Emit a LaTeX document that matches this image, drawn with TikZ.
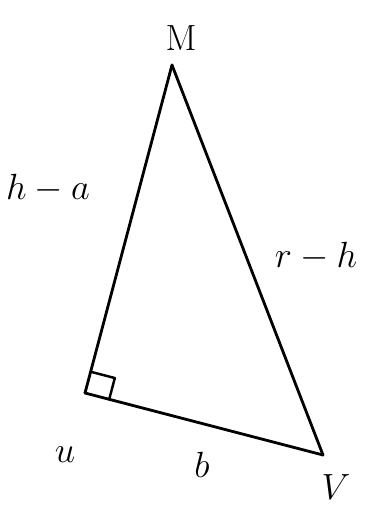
\documentclass[tikz,border=0pt]{standalone}
\usepackage{amsmath}
\usepackage{tikz}
\usetikzlibrary{positioning, calc}

\tikzset{
  side/.style={line width=1.6pt, line join=round, line cap=round},
  lbl/.style={font=\fontsize{22}{26}\selectfont}
}

\begin{document}
\begin{tikzpicture}[x=0.02cm, y=-0.02cm]
\useasboundingbox (0,0) rectangle (373,506);
\coordinate (M) at (172,65);
\coordinate (U) at (85,393);
\coordinate (V) at (323,455);
\draw[side] (M) -- (U);
\draw[side] (U) -- (V);
\draw[side] (V) -- (M);
% right angle at U
\coordinate (ua) at ($(U)!0.44cm!(M)$);
\coordinate (ub) at ($(U)!0.5cm!(V)$);
\draw[side, line width=1.4pt] (ua) -- ($(ua)+(ub)-(U)$) -- (ub);
\node[lbl] (mlab) at (181,38) {$\mathrm{M}$};
\node[lbl] (ha) at (48,188) {$h-a$};
\node[lbl] (rh) at (316,256) {$r-h$};
\node[lbl] (ulab) at (65,455) {$u$};
\node[lbl] (blab) at (202,465) {$b$};
\node[lbl] (vlab) at (336,487) {$V$};
\end{tikzpicture}
\end{document}
